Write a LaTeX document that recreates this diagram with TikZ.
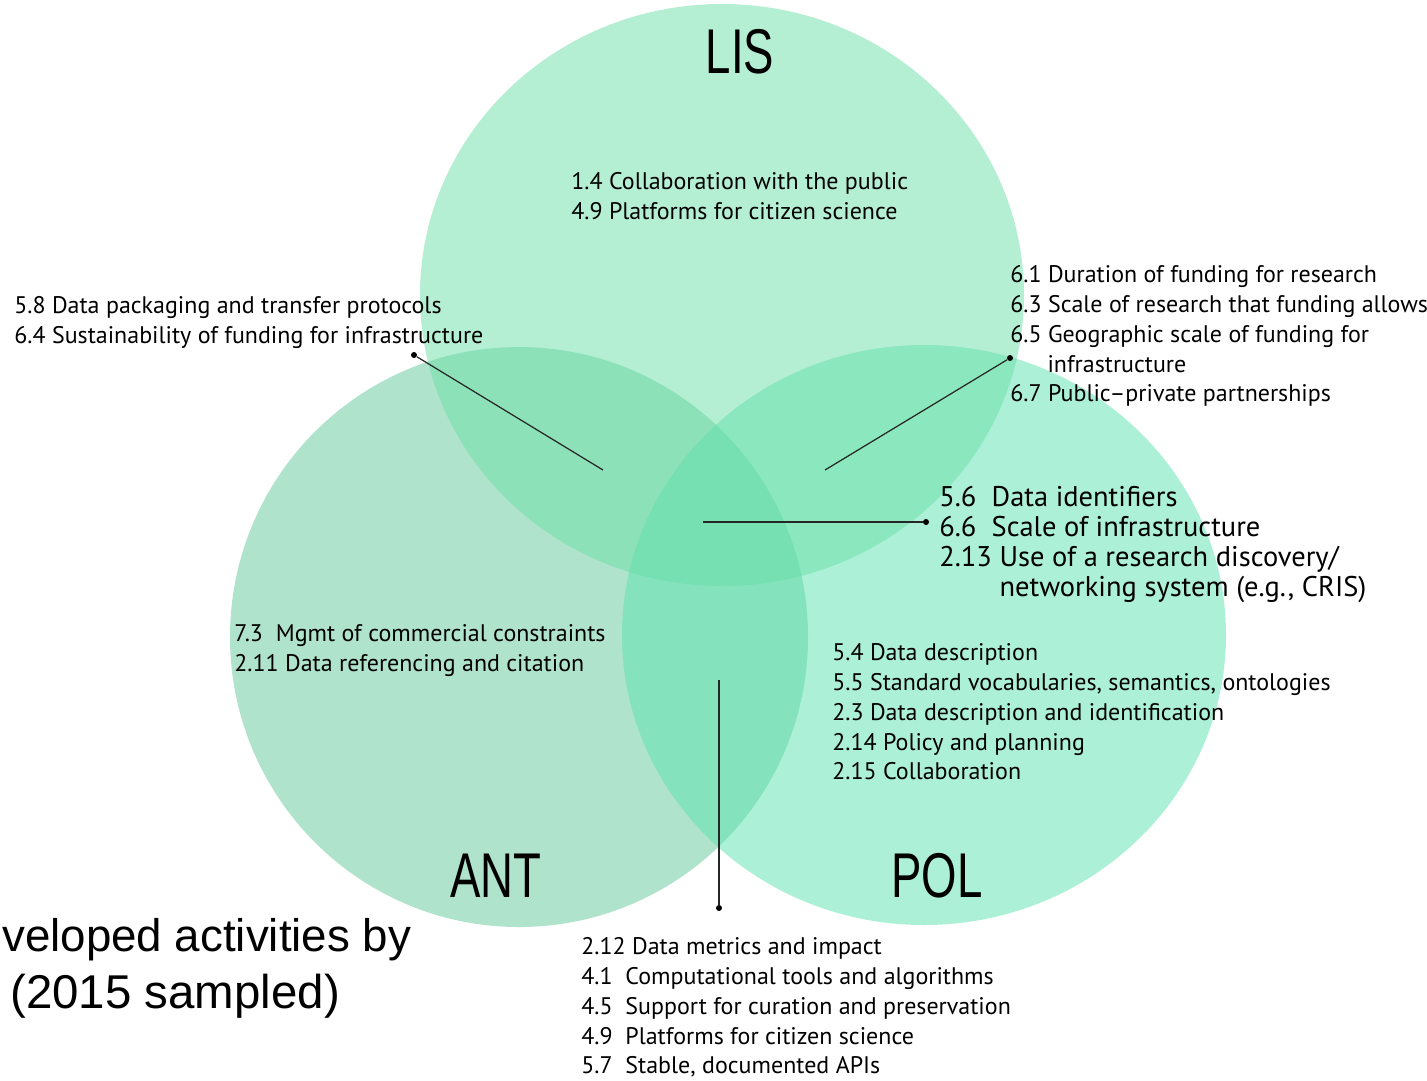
\documentclass[tikz,border=0pt]{standalone}
\usepackage{fontspec}
\setmainfont{PT Sans}
\newfontfamily\titlefont[FakeStretch=0.72]{Liberation Sans}
\newfontfamily\capfont{Liberation Sans}
\usetikzlibrary{positioning}

\definecolor{lisgreen}{RGB}{107,223,167}
\definecolor{antgreen}{RGB}{97,199,153}
\definecolor{polgreen}{RGB}{89,225,175}

\begin{document}
\begin{tikzpicture}[
  x=0.02cm, y=-0.02cm,
  set/.style={fill opacity=0.5, draw=none},
  title/.style={font=\titlefont\fontsize{36}{36}\selectfont, inner sep=0},
  items/.style={anchor=north west, align=left, inner sep=0,
    font=\fontsize{13.65}{17}\selectfont},
  bigitems/.style={items, font=\fontsize{16.2}{17}\selectfont},
  dot/.style={circle, fill=black, inner sep=0, minimum size=1.2mm},
  leader/.style={line width=0.7pt, black!85}]
  \useasboundingbox (0,0) rectangle (1427,1080);

  % the three sets
  \fill[set, antgreen] (519,637) ellipse [x radius=289, y radius=290];
  \fill[set, polgreen] (924,635) ellipse [x radius=302, y radius=290];
  \fill[set, lisgreen] (722,295) ellipse [x radius=302, y radius=291];

  \node[title] (lis) at (740,52) {LIS};
  \node[title] (ant) at (496,876) {ANT};
  \node[title] (pol) at (937,876) {POL};

  % activity lists
  \node[items] (lisonly) at (571,172) {1.4 Collaboration with the public\\
    4.9 Platforms for citizen science};
  \node[items] (lisant) at (14,296) {5.8 Data packaging and transfer protocols\\
    6.4 Sustainability of funding for infrastructure};
  \node[items] (lispol) at (1010,265) {6.1 Duration of funding for research\\
    6.3 Scale of research that funding allows\\
    6.5 Geographic scale of funding for\\
    \hspace*{1.55em}infrastructure\\
    6.7 Public--private partnerships};
  \node[bigitems] (all) at (939,486) {5.6\ \ Data identifiers\\
    6.6\ \ Scale of infrastructure\\
    2.13 Use of a research discovery/\\
    \phantom{2.13}\ networking system (e.g., CRIS)};
  \node[items] (antonly) at (234,624) {7.3\ \ Mgmt of commercial constraints\\
    2.11 Data referencing and citation};
  \node[items] (polonly) at (832,643) {5.4 Data description\\
    5.5 Standard vocabularies, semantics, ontologies\\
    2.3 Data description and identification\\
    2.14 Policy and planning\\
    2.15 Collaboration};
  \node[items] (antpol) at (581,937) {2.12 Data metrics and impact\\
    4.1\ \ Computational tools and algorithms\\
    4.5\ \ Support for curation and preservation\\
    4.9\ \ Platforms for citizen science\\
    5.7\ \ Stable, documented APIs};

  % leaders
  \node[dot] (d1) at (414,355) {};
  \node[dot] (d2) at (1010,358) {};
  \node[dot] (d3) at (926,522) {};
  \node[dot] (d4) at (719,908) {};
  \coordinate (e1) at (603,470);
  \coordinate (e2) at (825,470);
  \coordinate (e3) at (703,522);
  \coordinate (e4) at (719,680);
  \draw[leader] (d1) -- (e1);
  \draw[leader] (d2) -- (e2);
  \draw[leader] (d3) -- (e3);
  \draw[leader] (d4) -- (e4);

  \node[anchor=west, inner sep=0, font=\capfont\fontsize{26}{26}\selectfont]
    (cap1) at (2,940) {veloped activities by};
  \node[anchor=west, inner sep=0, font=\capfont\fontsize{27}{27}\selectfont]
    (cap2) at (10,996) {(2015 sampled)};
\end{tikzpicture}
\end{document}
